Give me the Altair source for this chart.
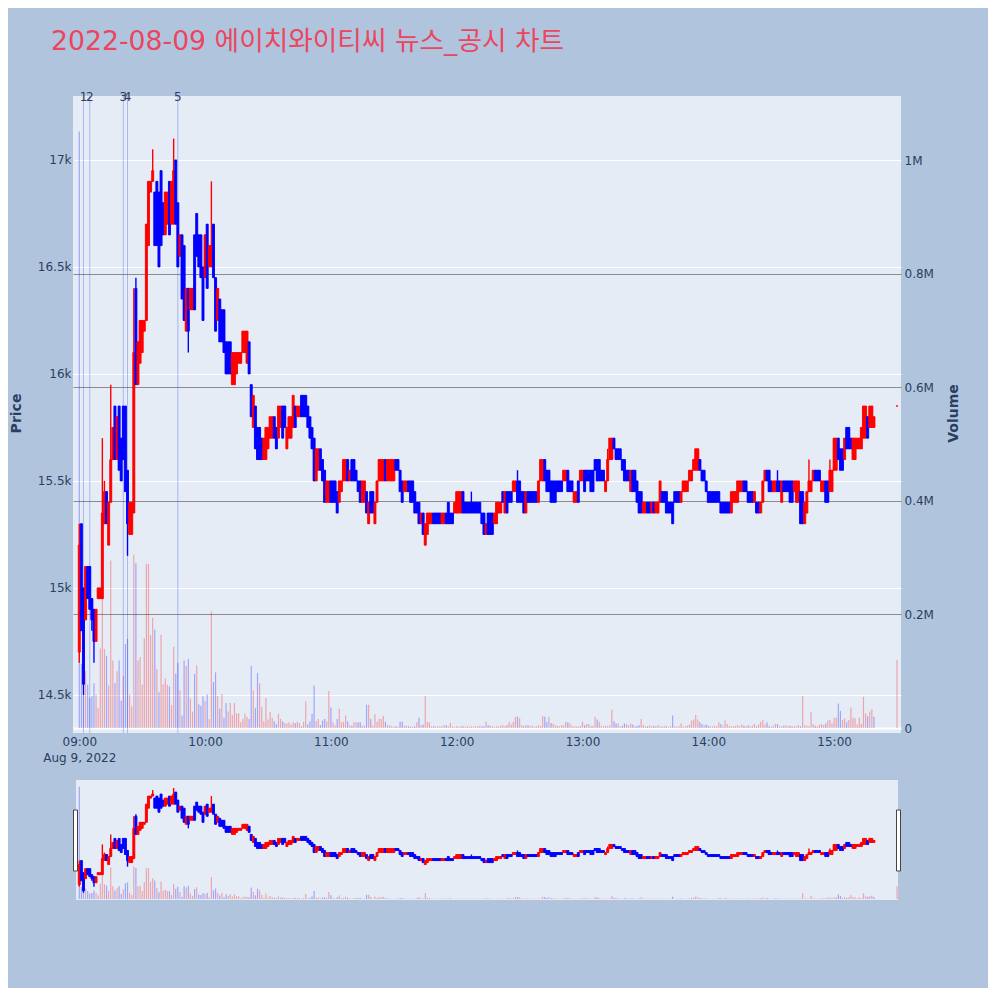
import altair as alt
import pandas as pd

TITLE = "2022-08-09 에이치와이티씨 뉴스_공시 차트"
DATE = "2022-08-09"
PREV_CLOSE = 15250

# minutes after 09:00 for each 1-minute candle (09:00-15:19, then the 15:30 close)
minute_offsets = list(range(380)) + [390]

opens = [
    14700, 15300, 15000, 14850, 15100, 15100, 14950, 14900, 14750, 14950,
    14950, 14950, 15300, 15450, 15200, 15400, 15600, 15850, 15600, 15850,
    15700, 15850, 15850, 15550, 15250, 15250, 15350, 16400, 15950, 16050,
    16100, 16200, 16250, 16600, 16850, 16900, 16850, 16900, 16850, 16950,
    16800, 16650, 16700, 16900, 16700, 16700, 17000, 16800, 16550, 16650,
    16600, 16200, 16400, 16300, 16300, 16650, 16750, 16650, 16650, 16500,
    16450, 16700, 16500, 16500, 16700, 16450, 16250, 16350, 16300, 16300,
    16150, 16150, 16150, 15950, 15950, 16000, 16050, 16050, 16100, 16100,
    16050, 16150, 15950, 15750, 15850, 15750, 15750, 15700, 15600, 15600,
    15650, 15700, 15700, 15800, 15750, 15700, 15750, 15850, 15850, 15650,
    15700, 15700, 15750, 15850, 15800, 15800, 15900, 15900, 15900, 15850,
    15800, 15750, 15700, 15500, 15550, 15650, 15600, 15550, 15400, 15400,
    15500, 15500, 15500, 15450, 15400, 15450, 15500, 15500, 15600, 15500,
    15600, 15600, 15550, 15500, 15500, 15400, 15400, 15450, 15300, 15450,
    15450, 15300, 15400, 15500, 15500, 15500, 15600, 15500, 15500, 15500,
    15500, 15600, 15600, 15550, 15500, 15450, 15450, 15500, 15500, 15500,
    15450, 15400, 15400, 15300, 15350, 15200, 15250, 15300, 15300, 15350,
    15350, 15350, 15350, 15300, 15300, 15350, 15400, 15350, 15350, 15350,
    15350, 15350, 15350, 15450, 15400, 15400, 15400, 15400, 15400, 15400,
    15400, 15400, 15350, 15350, 15250, 15350, 15350, 15350, 15300, 15300,
    15350, 15350, 15450, 15350, 15450, 15450, 15450, 15450, 15450, 15500,
    15500, 15450, 15450, 15350, 15450, 15450, 15450, 15450, 15450, 15400,
    15500, 15500, 15600, 15550, 15550, 15500, 15500, 15500, 15500, 15500,
    15500, 15500, 15500, 15550, 15500, 15500, 15400, 15400, 15500, 15500,
    15500, 15550, 15550, 15550, 15550, 15550, 15600, 15600, 15600, 15550,
    15550, 15450, 15500, 15600, 15600, 15700, 15650, 15650, 15650, 15600,
    15600, 15550, 15550, 15450, 15550, 15550, 15500, 15450, 15450, 15350,
    15350, 15400, 15400, 15350, 15400, 15350, 15350, 15400, 15450, 15450,
    15450, 15400, 15400, 15400, 15450, 15450, 15450, 15400, 15450, 15450,
    15450, 15500, 15500, 15550, 15550, 15550, 15600, 15550, 15550, 15500,
    15450, 15450, 15450, 15450, 15450, 15450, 15400, 15400, 15400, 15400,
    15400, 15350, 15400, 15400, 15400, 15450, 15450, 15500, 15500, 15450,
    15450, 15450, 15400, 15400, 15400, 15350, 15400, 15500, 15550, 15550,
    15500, 15450, 15450, 15500, 15500, 15400, 15500, 15500, 15500, 15500,
    15500, 15450, 15400, 15400, 15450, 15450, 15300, 15350, 15450, 15450,
    15500, 15550, 15550, 15550, 15450, 15450, 15500, 15500, 15450, 15450,
    15550, 15550, 15700, 15650, 15650, 15600, 15750, 15750, 15700, 15600,
    15600, 15650, 15650, 15650, 15700, 15700, 15800, 15750, 15750, 15750,
    15850,
]

closes = [
    15200, 14800, 14550, 15100, 14950, 14900, 14850, 14750, 14900, 15000,
    15000, 15350, 15450, 15300, 15400, 15600, 15750, 15600, 15800, 15550,
    15500, 15600, 15450, 15300, 15400, 15400, 16100, 15950, 16150, 16250,
    16250, 16250, 16700, 16900, 16900, 16950, 16600, 16600, 16500, 16600,
    16650, 16850, 16850, 16650, 16900, 16950, 16700, 16500, 16650, 16350,
    16250, 16400, 16200, 16400, 16400, 16300, 16550, 16500, 16450, 16250,
    16650, 16400, 16600, 16600, 16450, 16200, 16400, 16150, 16150, 16100,
    16000, 16000, 16000, 16100, 16100, 16100, 16100, 16100, 16200, 16200,
    16200, 16000, 15800, 15900, 15650, 15600, 15600, 15600, 15700, 15750,
    15750, 15800, 15800, 15700, 15650, 15850, 15850, 15700, 15750, 15750,
    15800, 15800, 15900, 15750, 15850, 15850, 15800, 15800, 15800, 15750,
    15700, 15650, 15500, 15650, 15650, 15550, 15500, 15400, 15500, 15500,
    15400, 15400, 15400, 15350, 15500, 15500, 15600, 15600, 15500, 15550,
    15500, 15500, 15500, 15450, 15400, 15500, 15500, 15350, 15400, 15350,
    15350, 15400, 15500, 15600, 15600, 15600, 15500, 15600, 15600, 15600,
    15600, 15550, 15550, 15450, 15400, 15500, 15500, 15450, 15400, 15400,
    15350, 15350, 15300, 15350, 15250, 15300, 15350, 15350, 15350, 15300,
    15300, 15300, 15300, 15350, 15350, 15300, 15300, 15300, 15300, 15400,
    15450, 15450, 15450, 15350, 15350, 15350, 15350, 15350, 15350, 15350,
    15350, 15350, 15300, 15250, 15300, 15250, 15250, 15250, 15350, 15400,
    15400, 15400, 15400, 15450, 15350, 15400, 15400, 15500, 15500, 15400,
    15400, 15400, 15350, 15450, 15400, 15400, 15400, 15400, 15400, 15500,
    15600, 15600, 15500, 15450, 15450, 15400, 15400, 15400, 15450, 15450,
    15450, 15550, 15550, 15450, 15450, 15450, 15450, 15450, 15400, 15550,
    15550, 15450, 15500, 15500, 15450, 15450, 15550, 15500, 15500, 15500,
    15500, 15500, 15600, 15700, 15700, 15650, 15600, 15600, 15600, 15550,
    15500, 15500, 15500, 15550, 15450, 15450, 15400, 15350, 15350, 15400,
    15400, 15350, 15350, 15400, 15350, 15400, 15400, 15500, 15400, 15400,
    15350, 15350, 15350, 15300, 15400, 15400, 15400, 15450, 15500, 15500,
    15500, 15550, 15550, 15600, 15650, 15650, 15550, 15500, 15500, 15450,
    15400, 15400, 15400, 15400, 15400, 15400, 15350, 15350, 15350, 15350,
    15350, 15450, 15450, 15450, 15500, 15500, 15500, 15450, 15450, 15400,
    15400, 15400, 15450, 15350, 15350, 15400, 15500, 15550, 15500, 15450,
    15450, 15500, 15500, 15450, 15450, 15500, 15450, 15450, 15450, 15400,
    15400, 15500, 15500, 15500, 15300, 15300, 15400, 15450, 15500, 15500,
    15550, 15500, 15500, 15500, 15500, 15500, 15400, 15400, 15550, 15550,
    15700, 15700, 15600, 15550, 15550, 15700, 15650, 15650, 15650, 15700,
    15700, 15700, 15700, 15750, 15850, 15850, 15700, 15850, 15850, 15800,
    15850,
]

# wicks that reach beyond the candle body (minute offset -> price)
high_wicks = {0: 15300, 11: 15700, 12: 15500, 15: 15950, 26: 16400, 27: 16450,
              35: 17050, 45: 17100, 56: 16750, 63: 16900, 187: 15450,
              209: 15550, 252: 15650, 333: 15550, 348: 15600, 358: 15600}
low_wicks = {0: 14650, 2: 14500, 6: 14800, 7: 14650, 23: 15150, 52: 16100}

volumes = [
    1050000, 113000, 58000, 100000, 76000, 53000, 56000, 79000, 59000, 35000,
    140000, 296000, 139000, 127000, 75000, 295000, 119000, 79000, 100000, 119000,
    48000, 92000, 148000, 157000, 59000, 38000, 305000, 290000, 119000, 125000,
    76000, 158000, 289000, 289000, 164000, 194000, 173000, 104000, 63000, 164000,
    77000, 87000, 76000, 73000, 40000, 143000, 96000, 115000, 66000, 22000,
    119000, 109000, 122000, 52000, 29000, 95000, 110000, 42000, 39000, 56000,
    48000, 59000, 16000, 205000, 81000, 98000, 56000, 34000, 60000, 18000,
    44000, 29000, 44000, 23000, 44000, 26000, 26000, 10000, 16000, 25000,
    20000, 16000, 109000, 66000, 35000, 97000, 79000, 37000, 12000, 53000,
    15000, 28000, 18000, 12000, 7000, 25000, 16000, 12000, 9000, 8000,
    10000, 6000, 10000, 9000, 11000, 9000, 3000, 11000, 47000, 6000,
    12000, 25000, 75000, 12000, 16000, 5000, 13000, 16000, 12000, 65000,
    36000, 10000, 5000, 16000, 34000, 10000, 11000, 22000, 12000, 5000,
    4000, 10000, 10000, 10000, 10000, 4000, 4000, 41000, 41000, 16000,
    4000, 24000, 11000, 16000, 16000, 21000, 11000, 5000, 5000, 3000,
    2000, 3000, 2000, 11000, 11000, 4000, 4000, 3000, 2000, 2000,
    3000, 10000, 18000, 5000, 6000, 57000, 11000, 10000, 3000, 3000,
    2000, 3000, 3000, 3000, 5000, 5000, 3000, 9000, 3000, 2000,
    3000, 2000, 3000, 3000, 2000, 3000, 2000, 3000, 3000, 3000,
    3000, 4000, 3000, 3000, 11000, 5000, 4000, 3000, 2000, 3000,
    3000, 4000, 5000, 3000, 5000, 10000, 6000, 11000, 20000, 20000,
    17000, 5000, 3000, 5000, 5000, 3000, 4000, 2000, 3000, 5000,
    4000, 21000, 20000, 11000, 20000, 9000, 7000, 5000, 4000, 3000,
    5000, 5000, 11000, 10000, 8000, 4000, 3000, 3000, 2000, 4000,
    11000, 5000, 7000, 7000, 3000, 4000, 20000, 15000, 11000, 4000,
    3000, 4000, 3000, 5000, 32000, 12000, 8000, 8000, 3000, 4000,
    8000, 7000, 5000, 8000, 6000, 3000, 4000, 5000, 16000, 5000,
    3000, 3000, 5000, 3000, 4000, 3000, 5000, 3000, 2000, 3000,
    3000, 2000, 3000, 22000, 3000, 2000, 3000, 8000, 2000, 3000,
    4000, 6000, 13000, 15000, 23000, 15000, 10000, 7000, 5000, 6000,
    4000, 3000, 3000, 4000, 3000, 10000, 7000, 3000, 13000, 7000,
    3000, 3000, 3000, 4000, 5000, 3000, 6000, 4000, 3000, 5000,
    3000, 4000, 7000, 3000, 6000, 11000, 14000, 6000, 10000, 3000,
    2000, 4000, 7000, 7000, 3000, 3000, 4000, 5000, 3000, 4000,
    3000, 3000, 3000, 5000, 3000, 57000, 5000, 4000, 3000, 28000,
    7000, 4000, 3000, 6000, 7000, 5000, 8000, 13000, 14000, 8000,
    18000, 18000, 43000, 30000, 14000, 17000, 10000, 14000, 36000, 18000,
    17000, 6000, 18000, 7000, 55000, 26000, 21000, 29000, 33000, 20000,
    120000,
]

news_times = ["09:02", "09:05", "09:21", "09:23", "09:47"]
news_labels = ["1", "2", "3", "4", "5"]

price_ticks = [14500, 15000, 15500, 16000, 16500, 17000]
volume_ticks = [0, 200000, 400000, 600000, 800000, 1000000]
hour_ticks = [9, 10, 11, 12, 13, 14, 15]

assert len(opens) == len(closes) == len(volumes) == len(minute_offsets)

rows = []
prev = PREV_CLOSE
for i, m in enumerate(minute_offsets):
    o, c = opens[i], closes[i]
    hh, mm = divmod(9 * 60 + m, 60)
    rows.append(dict(
        t=f"{DATE}T{hh:02d}:{mm:02d}:00", o=o, c=c,
        h=high_wicks.get(m, max(o, c)), l=low_wicks.get(m, min(o, c)),
        v=volumes[i],
        dir="up" if c >= o else "down",
        vdir="up" if c >= prev else "down",
    ))
    prev = c
df = pd.DataFrame(rows)
news_df = pd.DataFrame({"t": [f"{DATE}T{s}:00" for s in news_times], "label": news_labels})

FONT = "DejaVu Sans"
INK = "#2a3f5f"
PLOT_BG = "#E5ECF6"
W = 828


def dt(h, m=0, s=0):
    return alt.DateTime(year=2022, month=8, date=9, hours=h, minutes=m, seconds=s)


x_scale = alt.Scale(domain=[dt(8, 57, 0), dt(15, 31, 54)], nice=False, padding=0)
p_scale = alt.Scale(domain=[14322, 17299], zero=False, nice=False)
v_scale = alt.Scale(domain=[-8800, 1112700], zero=False, nice=False)
col_scale = alt.Scale(domain=["up", "down"], range=["#ff0000", "#0000ff"])


def build(with_axes):
    if with_axes:
        x_axis = alt.Axis(
            values=[dt(h) for h in hour_ticks], grid=False, title=None,
            labelExpr="hours(datum.value) == 9 ? [timeFormat(datum.value, '%H:%M'), 'Aug 9, 2022'] : timeFormat(datum.value, '%H:%M')",
            labelPadding=3, labelFontSize=12, labelLineHeight=16, labelFlush=False,
            labelOverlap=False)
        p_axis = alt.Axis(
            orient="left", values=price_ticks, grid=True, gridColor="#ffffff",
            gridWidth=1, labelExpr="format(datum.value / 1000, '~g') + 'k'",
            labelPadding=2, labelFontSize=12, title="Price", titleFontSize=14,
            titleFontWeight="bold", titleAngle=270, titleBaseline="middle",
            titleAlign="center", titleX=-57, titleY=317)
        v_axis = alt.Axis(
            orient="right", values=volume_ticks, grid=True,
            gridColor=alt.condition("datum.value == 0", alt.value("#ffffff"), alt.value("#8c8c8c")),
            gridWidth=alt.condition("datum.value == 0", alt.value(2), alt.value(1)),
            labelExpr="datum.value == 0 ? '0' : (datum.value >= 1000000 ? format(datum.value / 1000000, '~g') + 'M' : format(datum.value / 1000000, '.1f') + 'M')",
            labelPadding=3, labelFontSize=12, title="Volume", titleFontSize=14,
            titleFontWeight="bold", titleAngle=270, titleBaseline="middle",
            titleAlign="center", titleX=52, titleY=317)
    else:
        x_axis = None
        p_axis = None
        v_axis = None

    x_enc = alt.X("t:T", scale=x_scale, axis=x_axis)
    base = alt.Chart(df)

    vol = base.mark_bar(size=1.2, opacity=0.3).encode(
        x=x_enc,
        y=alt.Y("v:Q", scale=v_scale, axis=v_axis),
        y2=alt.datum(0),
        color=alt.Color("vdir:N", scale=col_scale, legend=None),
    )
    wick = base.mark_rule(strokeWidth=1.4).encode(
        x=x_enc,
        y=alt.Y("l:Q", scale=p_scale, axis=p_axis),
        y2="h:Q",
        color=alt.Color("dir:N", scale=col_scale, legend=None),
    )
    body = base.mark_bar(size=2.0, strokeWidth=0.9).encode(
        x=x_enc,
        y=alt.Y("o:Q", scale=p_scale, axis=p_axis),
        y2="c:Q",
        color=alt.Color("dir:N", scale=col_scale, legend=None),
        stroke=alt.Stroke("dir:N", scale=col_scale, legend=None),
    )
    price = alt.layer(wick, body)
    return x_enc, vol, price


# ---- main panel
x_main, vol_main, price_main = build(True)

news_rules = alt.Chart(news_df).mark_rule(color="#1f3fe0", opacity=0.3, strokeWidth=1).encode(
    x=x_main)
news_text = alt.Chart(news_df).mark_text(
    fontSize=12, color=INK, baseline="middle", align="center", font=FONT).encode(
    x=x_main, y=alt.value(1), text="label:N")
title_text = alt.Chart(pd.DataFrame({"title": [TITLE]})).mark_text(
    fontSize=26.7, color="#EB465F", align="left", baseline="alphabetic",
    font="DejaVu Sans, Noto Sans CJK KR, sans-serif").encode(
    x=alt.value(-22), y=alt.value(-46), text="title:N")
anchor = alt.Chart(pd.DataFrame({"a": [0]})).mark_rule(strokeOpacity=0, opacity=0).encode(
    x=alt.value(-65), x2=alt.value(915), y=alt.value(-88), y2=alt.value(892))

main = alt.layer(vol_main, news_rules, price_main, news_text, title_text, anchor).resolve_scale(
    y="independent").properties(width=W, height=637, view=alt.ViewBackground(fill=PLOT_BG, strokeWidth=0))

# ---- range slider (same time mapping, its background is a little narrower)
x_sl, vol_sl, price_sl = build(False)
slider_bg = alt.Chart(pd.DataFrame({"b": [0]})).mark_rect(fill=PLOT_BG).encode(
    x=alt.value(3), x2=alt.value(825), y=alt.value(0), y2=alt.value(120))
handle_l = alt.Chart(pd.DataFrame({"h": ["left"]})).mark_rect(
    fill="#ffffff", stroke="#444444", strokeWidth=1).encode(
    x=alt.value(0.5), x2=alt.value(4.5), y=alt.value(30), y2=alt.value(91))
handle_r = alt.Chart(pd.DataFrame({"h": ["right"]})).mark_rect(
    fill="#ffffff", stroke="#444444", strokeWidth=1).encode(
    x=alt.value(823.5), x2=alt.value(827.5), y=alt.value(30), y2=alt.value(91))
slider = alt.layer(slider_bg, vol_sl, price_sl, handle_l, handle_r).resolve_scale(
    y="independent").properties(width=W, height=120, view=alt.ViewBackground(strokeWidth=0))

chart = alt.vconcat(main, slider, spacing=47, bounds="flush").properties(
    padding={"left": 0, "top": 0, "right": 0, "bottom": 0},
).configure(
    background="#B0C4DE", font=FONT,
).configure_view(
    strokeWidth=0,
).configure_axis(
    domain=False, ticks=False, labelColor=INK, titleColor=INK,
    labelFont=FONT, titleFont=FONT,
)

chart.save("out.html", embed_options={"renderer": "svg", "actions": False})
